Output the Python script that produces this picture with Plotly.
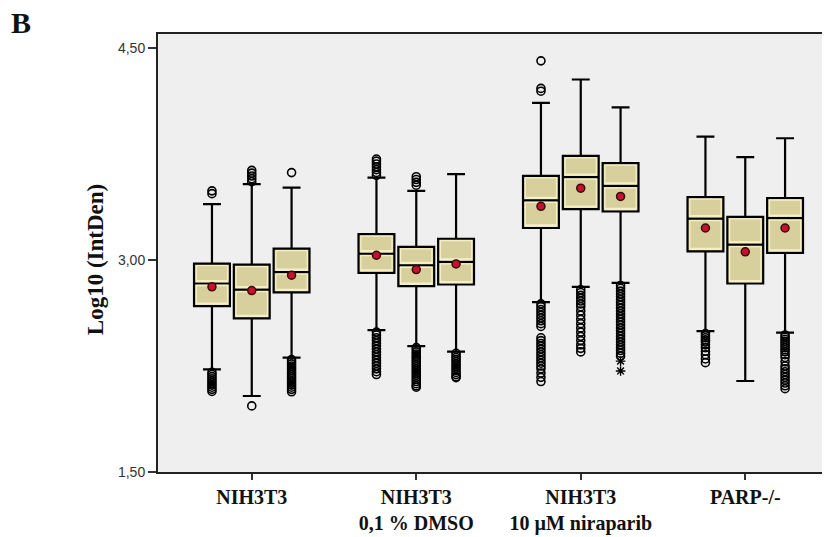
import plotly.graph_objects as go

# ---------------- data ----------------
categories = ["NIH3T3", "NIH3T3<br>0,1 % DMSO", "NIH3T3<br>10 µM niraparib", "PARP-/-"]
group_of_box = [0, 0, 0, 1, 1, 1, 2, 2, 2, 3, 3, 3]
slot_of_box = [-1, 0, 1, -1, 0, 1, -1, 0, 1, -1, 0, 1]

q1 = [2.674, 2.587, 2.772, 2.909, 2.815, 2.827, 3.227, 3.361, 3.344, 3.062, 2.834, 3.051]
median = [2.834, 2.791, 2.914, 3.045, 2.963, 2.987, 3.422, 3.587, 3.525, 3.293, 3.109, 3.297]
q3 = [2.975, 2.968, 3.081, 3.184, 3.093, 3.151, 3.596, 3.737, 3.686, 3.446, 3.305, 3.439]
means = [2.811, 2.784, 2.893, 3.034, 2.933, 2.973, 3.380, 3.509, 3.450, 3.227, 3.058, 3.227]
lowerfence = [2.227, 2.038, 2.309, 2.504, 2.391, 2.352, 2.702, 2.810, 2.839, 2.497, 2.144, 2.486]
upperfence = [3.396, 3.537, 3.513, 3.584, 3.490, 3.608, 4.113, 4.278, 4.081, 3.873, 3.728, 3.862]

outliers = [
    [3.470, 3.490, 2.205, 2.190, 2.175, 2.160, 2.145, 2.130, 2.115, 2.100, 2.085, 2.070],
    [3.555, 3.575, 3.595, 3.615, 3.635, 1.968],
    [3.619, 2.295, 2.280, 2.265, 2.250, 2.235, 2.220, 2.205, 2.190, 2.175, 2.160, 2.145, 2.130, 2.115, 2.100, 2.085, 2.068],
    [3.600, 3.620, 3.640, 3.660, 3.680, 3.700, 3.715,
     2.490, 2.470, 2.450, 2.430, 2.410, 2.390, 2.370, 2.350, 2.330, 2.310, 2.290, 2.270, 2.250, 2.230, 2.210, 2.190],
    [3.530, 3.550, 3.570, 3.590,
     2.380, 2.365, 2.350, 2.335, 2.320, 2.305, 2.290, 2.275, 2.260, 2.245, 2.230, 2.215, 2.200, 2.185, 2.170, 2.155, 2.140, 2.125, 2.110, 2.100],
    [2.340, 2.325, 2.310, 2.295, 2.280, 2.265, 2.250, 2.235, 2.220, 2.205, 2.190, 2.175, 2.168],
    [4.410, 4.195, 4.215,
     2.690, 2.670, 2.650, 2.630, 2.610, 2.590, 2.570, 2.550, 2.530, 2.450, 2.430, 2.410, 2.390, 2.370, 2.350,
     2.330, 2.310, 2.290, 2.270, 2.250, 2.230, 2.200, 2.170, 2.140],
    [2.790, 2.770, 2.750, 2.730, 2.710, 2.690, 2.670, 2.640, 2.610, 2.580, 2.550, 2.520, 2.490, 2.460, 2.430,
     2.400, 2.375, 2.350],
    [2.820, 2.800, 2.780, 2.760, 2.740, 2.720, 2.700, 2.680, 2.660, 2.640, 2.620, 2.600, 2.580, 2.560, 2.540,
     2.520, 2.500, 2.480, 2.460, 2.440, 2.420, 2.400, 2.380, 2.360, 2.340, 2.320],
    [2.480, 2.465, 2.450, 2.435, 2.420, 2.400, 2.380, 2.355, 2.330, 2.300, 2.274],
    [],
    [2.470, 2.455, 2.440, 2.425, 2.410, 2.395, 2.380, 2.365, 2.350, 2.330, 2.310, 2.280, 2.250, 2.230, 2.210,
     2.190, 2.170, 2.150, 2.130, 2.110, 2.090],
]
extremes = [[], [], [], [], [], [], [], [], [2.285, 2.215], [], [], []]

ytick_vals = [1.5, 3.0, 4.5]
ytick_text = ["1,50", "3,00", "4,50"]

# ---------------- styling ----------------
BOX_FILL = "#D7D09D"
INNER = "#F4EFC6"
SLOT = 0.242
BOX_W = 0.218
INNER_W = 0.190
D = 0.014

xs = [g + s * SLOT for g, s in zip(group_of_box, slot_of_box)]

fig = go.Figure()

for i, x in enumerate(xs):
    fig.add_trace(go.Box(
        x=[x], q1=[q1[i]], median=[median[i]], q3=[q3[i]],
        lowerfence=[lowerfence[i]], upperfence=[upperfence[i]],
        width=BOX_W, whiskerwidth=0.5,
        fillcolor=BOX_FILL, line=dict(color="black", width=2.2),
        boxpoints=False, hoverinfo="skip", showlegend=False,
    ))
    # inner light borders (SPSS style)
    for lo, hi in [(q1[i] + D, median[i] - D), (median[i] + D, q3[i] - D)]:
        if hi > lo:
            fig.add_trace(go.Box(
                x=[x], q1=[lo], median=[lo], q3=[hi],
                lowerfence=[lo], upperfence=[hi],
                width=INNER_W, whiskerwidth=0,
                fillcolor="rgba(0,0,0,0)", line=dict(color=INNER, width=1.3),
                boxpoints=False, hoverinfo="skip", showlegend=False,
            ))

# outliers
ox, oy = [], []
for i, vals in enumerate(outliers):
    for v in vals:
        ox.append(xs[i]); oy.append(v)
fig.add_trace(go.Scatter(
    x=ox, y=oy, mode="markers",
    marker=dict(symbol="circle-open", size=8, color="black", line=dict(width=1.6)),
    hoverinfo="skip", showlegend=False,
))
ex, ey = [], []
for i, vals in enumerate(extremes):
    for v in vals:
        ex.append(xs[i]); ey.append(v)
fig.add_trace(go.Scatter(
    x=ex, y=ey, mode="markers",
    marker=dict(symbol="asterisk-open", size=8, color="black", line=dict(width=1.4, color="black")),
    hoverinfo="skip", showlegend=False,
))

# means
fig.add_trace(go.Scatter(
    x=xs, y=means, mode="markers",
    marker=dict(symbol="circle", size=8, color="#C4122F", line=dict(width=1.5, color="#3a0a0a")),
    hoverinfo="skip", showlegend=False,
))

# page has an 8px body margin: figure drawn at (8,8)
W, H = 822, 529
L, T, B = 150, 26, 65
PH = H - T - B

fig.update_layout(
    width=W, height=H,
    margin=dict(l=L, r=0, t=T, b=B),
    paper_bgcolor="white", plot_bgcolor="#EFEFEF",
    boxmode="overlay",
    xaxis=dict(
        range=[-0.57, 3.503], tickmode="array", tickvals=[0, 1, 2, 3],
        ticktext=["<b>" + c + "</b>" for c in categories],
        ticks="outside", ticklen=6, tickwidth=1.5, tickcolor="#333",
        tickfont=dict(family="Liberation Serif", size=20, color="#111"),
        showgrid=False, zeroline=False,
        showline=True, linecolor="#222", linewidth=2, mirror=True,
    ),
    yaxis=dict(
        range=[1.5, 4.6], tickmode="array", tickvals=ytick_vals, ticktext=ytick_text,
        ticks="outside", ticklen=8, tickwidth=1.5, tickcolor="#333",
        tickfont=dict(family="Liberation Sans", size=14, color="#333"),
        showgrid=False, zeroline=False,
        showline=True, linecolor="#222", linewidth=2, mirror=True,
    ),
    annotations=[
        dict(text="<b>Log10 (IntDen)</b>", xref="paper", yref="paper",
             x=(87 - L) / (W - L), y=(T + PH - 252) / PH, textangle=-90, showarrow=False,
             xanchor="center", yanchor="middle",
             font=dict(family="Liberation Serif", size=23, color="#111")),
        dict(text="<b>B</b>", xref="paper", yref="paper",
             x=(13 - L) / (W - L), y=(T + PH - 15) / PH, showarrow=False,
             xanchor="center", yanchor="middle",
             font=dict(family="Liberation Serif", size=30, color="#111")),
    ],
)

fig.write_html("out.html")
